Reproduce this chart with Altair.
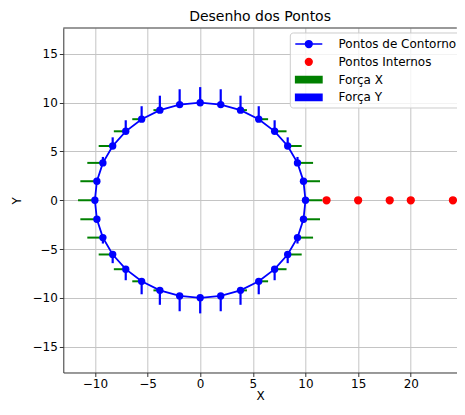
import altair as alt
import pandas as pd

# Boundary points (counter-clockwise, starting at angle 0)
px = [10.00, 9.81, 9.24, 8.31, 7.07, 5.56, 3.83, 1.95, 0.00, -1.95, -3.83, -5.56, -7.07, -8.31, -9.24, -9.81,
      -10.00, -9.81, -9.24, -8.31, -7.07, -5.56, -3.83, -1.95, 0.00, 1.95, 3.83, 5.56, 7.07, 8.31, 9.24, 9.81]
py = [0.00, 1.95, 3.83, 5.56, 7.07, 8.31, 9.24, 9.81, 10.00, 9.81, 9.24, 8.31, 7.07, 5.56, 3.83, 1.95,
      0.00, -1.95, -3.83, -5.56, -7.07, -8.31, -9.24, -9.81, -10.00, -9.81, -9.24, -8.31, -7.07, -5.56, -3.83, -1.95]
# Forces
fx = [1.60, 1.57, 1.48, 1.33, 1.13, 0.89, 0.61, 0.31, 0.00, -0.31, -0.61, -0.89, -1.13, -1.33, -1.48, -1.57,
      -1.60, -1.57, -1.48, -1.33, -1.13, -0.89, -0.61, -0.31, 0.00, 0.31, 0.61, 0.89, 1.13, 1.33, 1.48, 1.57]
fy = [0.00, 0.31, 0.61, 0.89, 1.13, 1.33, 1.48, 1.57, 1.60, 1.57, 1.48, 1.33, 1.13, 0.89, 0.61, 0.31,
      0.00, -0.31, -0.61, -0.89, -1.13, -1.33, -1.48, -1.57, -1.60, -1.57, -1.48, -1.33, -1.13, -0.89, -0.61, -0.31]
# Internal points
ix = [12, 15, 18, 20, 24]
iy = [0, 0, 0, 0, 0]

x_ticks = [-10, -5, 0, 5, 10, 15, 20, 25]
y_ticks = [-15, -10, -5, 0, 5, 10, 15]

labels = ["Pontos de Contorno", "Pontos Internos", "Força X", "Força Y"]
colors = ["#0000ff", "#ff0000", "#008000", "#0000ff"]
shapes = [
    "M-2,0H2M0.5,0A0.5,0.5,0,1,1,-0.5,0A0.5,0.5,0,1,1,0.5,0",
    "M0.5,0A0.5,0.5,0,1,1,-0.5,0A0.5,0.5,0,1,1,0.5,0",
    "M-1.95,-0.45H1.95V0.45H-1.95Z",
    "M-1.95,-0.45H1.95V0.45H-1.95Z",
]

W, H = 393.5, 344.5

bnd = pd.DataFrame({"i": list(range(len(px))), "x": px, "y": py, "fx": fx, "fy": fy})
loop = pd.concat([bnd, bnd.iloc[[0]].assign(i=len(px))], ignore_index=True)
internal = pd.DataFrame({"x": ix, "y": iy, "serie": ["Pontos Internos"] * len(ix)})

xs = alt.Scale(domain=[-13.0, 24.37], nice=False, zero=False)
ys = alt.Scale(domain=[-17.66, 17.66], nice=False, zero=False)
X = alt.X("x:Q", scale=xs, axis=alt.Axis(values=x_ticks, title="X"))
Y = alt.Y("y:Q", scale=ys, axis=alt.Axis(values=y_ticks, title="Y"))

# top spine of the frame (right spine lies outside the reference picture)
frame_top = alt.Chart(pd.DataFrame({"k": [0]})).mark_rule(color="#333333", strokeWidth=1).encode(
    x=alt.value(0), x2=alt.value(W), y=alt.value(0))

green = alt.Chart(bnd).transform_calculate(xe="datum.x + datum.fx").mark_rule(
    color="#008000", strokeWidth=2).encode(x=X, x2="xe:Q", y=Y)
blue = alt.Chart(bnd).transform_calculate(ye="datum.y + datum.fy").mark_rule(
    color="#0000ff", strokeWidth=2.2).encode(x=X, y=Y, y2="ye:Q")
line = alt.Chart(loop).mark_line(color="#0000ff", strokeWidth=1.8).encode(x=X, y=Y, order="i:Q")
pts = alt.Chart(bnd).mark_circle(color="#0000ff", size=54, opacity=1).encode(x=X, y=Y)

leg = alt.Legend(title=None, orient="none", legendX=226.5, legendY=4.5, symbolSize=182.25,
                 symbolStrokeWidth=1.5, symbolOffset=7.5, labelOffset=22.2, rowPadding=3.8,
                 padding=4, labelFontSize=12, labelFont="DejaVu Sans", labelColor="black",
                 fillColor="rgba(255,255,255,0.8)", strokeColor="#cccccc", cornerRadius=3,
                 labelBaseline="middle")
cscale = alt.Scale(domain=labels, range=colors)
sscale = alt.Scale(domain=labels, range=shapes)
inner = alt.Chart(internal).mark_point(filled=True, opacity=1, size=182.25, strokeWidth=1.5).encode(
    x=X, y=Y,
    fill=alt.Fill("serie:N", scale=cscale, legend=leg),
    stroke=alt.Stroke("serie:N", scale=cscale, legend=leg),
    shape=alt.Shape("serie:N", scale=sscale, legend=leg),
)

chart = alt.layer(green, blue, line, pts, inner, frame_top).properties(
    width=W, height=H,
    padding={"left": 55.3, "top": 20, "right": 0, "bottom": 30},
    autosize=alt.AutoSizeParams(type="none"),
    title=alt.Title("Desenho dos Pontos", fontSize=14, font="DejaVu Sans", fontWeight="normal",
                    offset=4, color="black"),
).configure_view(strokeWidth=0).configure_axis(
    domainColor="#333333", tickColor="#333333", tickSize=4, labelPadding=2,
    labelFont="DejaVu Sans", labelFontSize=12, labelColor="black",
    titleFont="DejaVu Sans", titleFontSize=12, titleFontWeight="normal", titleColor="black",
    gridColor="#c4c4c4", gridWidth=1,
).configure_axisX(titlePadding=1).configure_axisY(titlePadding=8)

chart.save("out.html", embed_options={"renderer": "svg", "actions": False})
